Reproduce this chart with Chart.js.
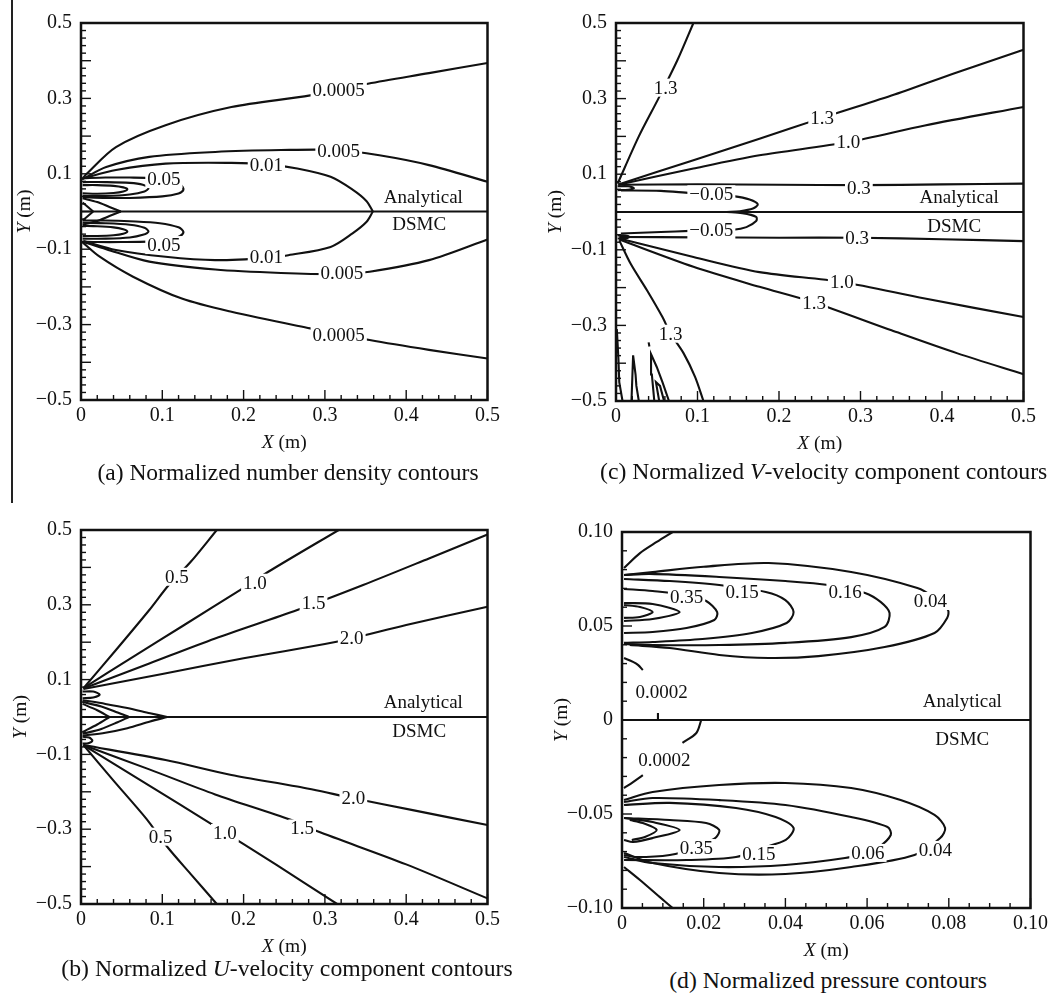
<!DOCTYPE html>
<html>
<head>
<meta charset="utf-8">
<script src="https://cdn.jsdelivr.net/npm/chart.js@4.4.1/dist/chart.umd.min.js"></script>
<style>
  body { margin: 0; background: #fff; width: 1058px; height: 996px; position: relative; overflow: hidden; font-family: "Liberation Serif", serif; }
  canvas { position: absolute; }
  .cap { position: absolute; color: #111; white-space: nowrap; transform: translate(-50%, -50%); }
  .capl { position: absolute; color: #111; white-space: nowrap; transform: translate(0, -50%); }
  #rule { position: absolute; left: 11px; top: 0; width: 1.5px; height: 503px; background: #222; }
</style>
</head>
<body>
<div id="rule"></div>
<canvas id="cA" width="504" height="455" style="left:0;top:0"></canvas>
<canvas id="cC" width="512" height="456" style="left:528px;top:0"></canvas>
<canvas id="cB" width="504" height="479" style="left:0;top:480px"></canvas>
<canvas id="cD" width="524" height="483" style="left:528px;top:480px"></canvas>
<div class="cap" style="left:288px;top:472px;font-size:23.5px">(a) Normalized number density contours</div>
<div class="capl" style="left:600px;top:471px;font-size:23.7px">(c) Normalized <i>V</i>-velocity component contours</div>
<div class="cap" style="left:287px;top:968px;font-size:23.7px">(b) Normalized <i>U</i>-velocity component contours</div>
<div class="cap" style="left:828px;top:980px;font-size:23.7px">(d) Normalized pressure contours</div>
<script>
// contour lines, [X, Y] in metres

// (a) number density
const aN0005Up = [[0.001,0.085],[0.007,0.1],[0.043,0.171],[0.104,0.229],[0.185,0.277],[0.282,0.308],[0.353,0.339],[0.428,0.367],[0.5,0.394]];
const aN0005Lo = [[0.001,-0.08],[0.023,-0.12],[0.064,-0.173],[0.124,-0.231],[0.185,-0.266],[0.282,-0.31],[0.355,-0.341],[0.428,-0.367],[0.5,-0.39]];
const aN005Up = [[0.002,0.086],[0.031,0.118],[0.084,0.145],[0.165,0.158],[0.246,0.163],[0.315,0.163],[0.367,0.149],[0.428,0.123],[0.5,0.079]];
const aN005Lo = [[0.002,-0.08],[0.031,-0.1],[0.084,-0.133],[0.165,-0.154],[0.246,-0.163],[0.321,-0.166],[0.355,-0.16],[0.428,-0.129],[0.5,-0.074]];
const aN01Up = [[0.003,0.088],[0.043,0.11],[0.104,0.127],[0.185,0.129],[0.23,0.125],[0.266,0.114],[0.307,0.092],[0.334,0.058],[0.351,0.028],[0.359,0]];
const aN01Lo = [[0.359,0],[0.351,-0.028],[0.334,-0.058],[0.307,-0.094],[0.255,-0.116],[0.23,-0.123],[0.165,-0.129],[0.104,-0.12],[0.043,-0.102],[0.003,-0.078]];
const aLobeAUp = [[0.002,0.07],[0.02,0.07],[0.04,0.068],[0.052,0.064],[0.057,0.059],[0.052,0.053],[0.04,0.049],[0.02,0.047],[0.002,0.048]];
const aLobeBUp = [[0.002,0.078],[0.03,0.078],[0.06,0.076],[0.076,0.071],[0.083,0.062],[0.078,0.053],[0.06,0.045],[0.03,0.041],[0.002,0.041]];
const aLobeCUp = [[0.002,0.088],[0.03,0.09],[0.06,0.09],[0.083,0.089],[0.11,0.082],[0.123,0.07],[0.126,0.058],[0.12,0.048],[0.1,0.04],[0.06,0.036],[0.03,0.036],[0.002,0.038]];
const aLobeALo = [[0.002,-0.038],[0.02,-0.039],[0.04,-0.042],[0.052,-0.047],[0.057,-0.053],[0.052,-0.059],[0.04,-0.063],[0.02,-0.065],[0.002,-0.065]];
const aLobeBLo = [[0.002,-0.03],[0.03,-0.031],[0.06,-0.035],[0.078,-0.043],[0.083,-0.053],[0.076,-0.062],[0.06,-0.069],[0.03,-0.072],[0.002,-0.072]];
const aLobeCLo = [[0.002,-0.024],[0.03,-0.024],[0.06,-0.026],[0.097,-0.031],[0.12,-0.042],[0.126,-0.054],[0.122,-0.065],[0.11,-0.076],[0.083,-0.08],[0.05,-0.081],[0.02,-0.081],[0.002,-0.08]];
const aVOutUp = [[0.002,0.035],[0.02,0.025],[0.035,0.012],[0.049,0]];
const aVOutLo = [[0.049,0],[0.035,-0.012],[0.02,-0.025],[0.002,-0.035]];
const aVInUp = [[0.002,0.024],[0.015,0]];
const aVInLo = [[0.015,0],[0.002,-0.024]];
const aCenter = [[0,0],[0.5,0]];
const aLabels = [["0.0005",0.317,0.323],["0.005",0.317,0.161],["0.01",0.228,0.123],["0.05",0.102,0.086],
                 ["0.05",0.102,-0.089],["0.01",0.228,-0.12],["0.005",0.321,-0.163],["0.0005",0.317,-0.328]];

// (c) V-velocity
const cV13UpSteep = [[0.002,0.075],[0.028,0.2],[0.052,0.3],[0.075,0.4],[0.095,0.5]];
const cV13UpFlat = [[0.003,0.073],[0.095,0.137],[0.176,0.194],[0.253,0.249],[0.338,0.308],[0.419,0.37],[0.5,0.429]];
const cV10Up = [[0.003,0.072],[0.095,0.115],[0.176,0.15],[0.285,0.185],[0.379,0.229],[0.5,0.278]];
const cV03Up = [[0.003,0.072],[0.1,0.073],[0.2,0.072],[0.3,0.071],[0.4,0.073],[0.5,0.075]];
const cVm05Up = [[0.006,0.057],[0.055,0.056],[0.091,0.05],[0.117,0.047],[0.144,0.042],[0.164,0.033],[0.174,0.02],[0.168,0.009],[0.152,0.002],[0.136,0]];
const cVLoopUp = [[0.002,0.068],[0.015,0.068],[0.022,0.063],[0.015,0.059],[0.002,0.058]];
const cVm05Lo = [[0.136,0],[0.155,-0.003],[0.172,-0.013],[0.172,-0.024],[0.16,-0.04],[0.144,-0.047],[0.117,-0.048],[0.091,-0.05],[0.055,-0.053],[0.006,-0.057]];
const cVLoopLo = [[0.002,-0.062],[0.012,-0.062],[0.016,-0.066],[0.012,-0.07],[0.002,-0.07]];
const cV03Lo = [[0.004,-0.066],[0.1,-0.067],[0.2,-0.068],[0.298,-0.068],[0.4,-0.072],[0.5,-0.077]];
const cV10Lo = [[0.004,-0.07],[0.095,-0.119],[0.176,-0.159],[0.277,-0.185],[0.379,-0.229],[0.5,-0.278]];
const cV13LoFlat = [[0.004,-0.073],[0.095,-0.145],[0.176,-0.198],[0.241,-0.238],[0.338,-0.313],[0.419,-0.374],[0.5,-0.429]];
const cV13LoSteep = [[0.004,-0.075],[0.018,-0.137],[0.038,-0.207],[0.057,-0.278],[0.067,-0.322],[0.083,-0.374],[0.097,-0.436],[0.107,-0.498]];
const cVNoise1 = [[0.019,-0.5],[0.02,-0.44],[0.021,-0.379],[0.024,-0.43],[0.025,-0.46],[0.028,-0.5]];
const cVNoise2 = [[0.047,-0.5],[0.044,-0.43],[0.043,-0.376],[0.05,-0.41],[0.057,-0.45],[0.065,-0.5]];
const cVNoise3 = [[0.053,-0.5],[0.049,-0.45],[0.054,-0.46],[0.059,-0.5]];
const cVNoise4 = [[0.001,-0.31],[0.003,-0.39],[0.004,-0.45],[0.008,-0.5]];
const cVDot = [[0.04,-0.345],[0.041,-0.356]];
const cCenter = [[0,0],[0.5,0]];
const cLabels = [["1.3",0.061,0.329],["1.3",0.253,0.249],["1.0",0.285,0.185],["0.3",0.298,0.064],["\u22120.05",0.117,0.047],
                 ["\u22120.05",0.117,-0.048],["0.3",0.296,-0.068],["1.0",0.277,-0.185],["1.3",0.243,-0.242],["1.3",0.067,-0.322]];

// (b) U-velocity
const bU05Up = [[0.003,0.077],[0.043,0.179],[0.084,0.286],[0.108,0.353],[0.135,0.415],[0.167,0.5]];
const bU10Up = [[0.003,0.077],[0.064,0.161],[0.124,0.242],[0.199,0.344],[0.234,0.393],[0.317,0.5]];
const bU15Up = [[0.003,0.076],[0.084,0.143],[0.165,0.21],[0.266,0.286],[0.347,0.353],[0.428,0.424],[0.5,0.488]];
const bU20Up = [[0.003,0.075],[0.1,0.115],[0.2,0.157],[0.3,0.195],[0.333,0.21],[0.4,0.246],[0.5,0.295]];
const bU20Lo = [[0.003,-0.075],[0.104,-0.115],[0.185,-0.155],[0.266,-0.186],[0.335,-0.217],[0.408,-0.249],[0.5,-0.289]];
const bU15Lo = [[0.003,-0.075],[0.084,-0.14],[0.165,-0.207],[0.258,-0.275],[0.29,-0.305],[0.4,-0.394],[0.5,-0.485]];
const bU10Lo = [[0.003,-0.075],[0.08,-0.178],[0.161,-0.287],[0.24,-0.395],[0.315,-0.5]];
const bU05Lo = [[0.003,-0.075],[0.04,-0.17],[0.08,-0.271],[0.106,-0.347],[0.135,-0.42],[0.167,-0.5]];
const bTipOutUp = [[0.002,0.045],[0.03,0.035],[0.057,0.024],[0.085,0.01],[0.106,0]];
const bTipOutLo = [[0.106,0],[0.085,-0.012],[0.057,-0.03],[0.03,-0.042],[0.002,-0.05]];
const bTipMidUp = [[0.002,0.04],[0.025,0.028],[0.045,0.012],[0.059,0]];
const bTipMidLo = [[0.059,0],[0.045,-0.014],[0.025,-0.032],[0.002,-0.045]];
const bTipInUp = [[0.002,0.035],[0.02,0.018],[0.035,0]];
const bTipInLo = [[0.035,0],[0.02,-0.02],[0.002,-0.04]];
const bLoopUp = [[0.002,0.068],[0.015,0.068],[0.023,0.06],[0.015,0.052],[0.002,0.05]];
const bLoopLo = [[0.002,-0.053],[0.01,-0.055],[0.014,-0.063],[0.009,-0.07],[0.002,-0.071]];
const bCenter = [[0,0],[0.5,0]];
const bLabels = [["0.5",0.118,0.375],["1.0",0.214,0.359],["1.5",0.286,0.304],["2.0",0.333,0.21],
                 ["2.0",0.335,-0.217],["1.5",0.272,-0.298],["1.0",0.177,-0.31],["0.5",0.098,-0.32]];

// (d) pressure
const dP0002Top = [[0.0005,0.0809],[0.0044,0.0888],[0.0085,0.0947],[0.0124,0.1]];
const dP0002Up = [[0.0005,0.033],[0.0027,0.0309],[0.0039,0.0293],[0.0051,0.0266]];
const dTickUp = [[0.0088,0.0037],[0.0088,0]];
const dP04Up = [[0.0005,0.0771],[0.0075,0.0787],[0.02,0.0815],[0.0359,0.0835],[0.0561,0.0787],[0.0723,0.0702],[0.0765,0.065],[0.0798,0.0585],[0.0796,0.0543],[0.0765,0.0463],[0.0643,0.0388],[0.0481,0.034],[0.0359,0.033],[0.0238,0.0346],[0.0117,0.0383],[0.0019,0.0399]];
const dP16Up = [[0.0005,0.0771],[0.0068,0.0777],[0.0238,0.0761],[0.04,0.0739],[0.0505,0.0718],[0.0595,0.0676],[0.0633,0.0628],[0.0655,0.0569],[0.0643,0.0495],[0.0561,0.0441],[0.04,0.041],[0.0238,0.0399],[0.0075,0.0399],[0.0005,0.0404]];
const dP15Up = [[0.0005,0.075],[0.0117,0.0739],[0.0238,0.0718],[0.0352,0.0681],[0.04,0.0638],[0.042,0.0574],[0.0403,0.0516],[0.0318,0.0463],[0.0197,0.0431],[0.0075,0.0415],[0.0005,0.041]];
const dP35Up = [[0.0005,0.0697],[0.0075,0.0686],[0.0158,0.0665],[0.0206,0.0633],[0.0233,0.0574],[0.0226,0.0532],[0.0158,0.0489],[0.0075,0.0468],[0.0005,0.0463]];
const dLoop1Up = [[0.0005,0.0622],[0.0075,0.0617],[0.0141,0.0574],[0.0075,0.0537],[0.0005,0.0527]];
const dLoop2Up = [[0.0005,0.0612],[0.0044,0.0601],[0.0075,0.0574],[0.0044,0.0548],[0.0005,0.0543]];
const dP0002Bot = [[0.0194,0],[0.0182,-0.0069],[0.0148,-0.0122]];
const dP0002Lo = [[0.0005,-0.0362],[0.0027,-0.033],[0.0051,-0.0293]];
const dP0002Edge = [[0.0005,-0.0782],[0.0044,-0.0851],[0.0092,-0.0941],[0.0124,-0.1]];
const dP04Lo = [[0.0005,-0.0426],[0.0075,-0.0383],[0.0238,-0.0346],[0.04,-0.0335],[0.0561,-0.0362],[0.0682,-0.0426],[0.0765,-0.0505],[0.0791,-0.0574],[0.0779,-0.0628],[0.0716,-0.0718],[0.0561,-0.0782],[0.04,-0.0819],[0.0238,-0.0814],[0.0075,-0.0761],[0.0005,-0.0707]];
const dP06Lo = [[0.0005,-0.0436],[0.0075,-0.0415],[0.0238,-0.0426],[0.04,-0.0452],[0.0561,-0.0516],[0.065,-0.0569],[0.0658,-0.0612],[0.0626,-0.0681],[0.0595,-0.0707],[0.0546,-0.0734],[0.04,-0.0771],[0.0238,-0.0782],[0.0075,-0.0761],[0.0005,-0.0729]];
const dP15Lo = [[0.0005,-0.0452],[0.0117,-0.0441],[0.0279,-0.0468],[0.0376,-0.0516],[0.042,-0.0574],[0.0401,-0.0638],[0.0342,-0.0681],[0.0279,-0.0729],[0.0158,-0.0745],[0.0005,-0.0745]];
const dP35Lo = [[0.0005,-0.0521],[0.0117,-0.0532],[0.0206,-0.0548],[0.0238,-0.0585],[0.0231,-0.0622],[0.0206,-0.0654],[0.0182,-0.0681],[0.0117,-0.0718],[0.0036,-0.0729],[0.0005,-0.0718]];
const dLoop1Lo = [[0.0005,-0.0521],[0.0075,-0.0543],[0.0141,-0.0585],[0.0075,-0.0628],[0.0027,-0.0649],[0.0005,-0.0638]];
const dLoop2Lo = [[0.0019,-0.0532],[0.0051,-0.0548],[0.0085,-0.0585],[0.0056,-0.0622],[0.0024,-0.0638]];
const dCenter = [[0,0],[0.1,0]];
const dLabels = [["0.35",0.0158,0.0654],["0.15",0.0294,0.0681],["0.16",0.0546,0.0681],["0.04",0.0755,0.0633],["0.0002",0.0097,0.0149],
                 ["0.0002",0.0104,-0.0213],["0.35",0.0182,-0.0681],["0.15",0.0335,-0.0713],["0.06",0.0602,-0.0707],["0.04",0.0767,-0.0691]];

const INK = "#111";
const FONT = '"Liberation Serif", "Times New Roman", serif';

function line(pts, jagged) {
  return {
    data: pts.map(p => ({ x: p[0], y: p[1] })),
    showLine: true,
    borderColor: INK,
    borderWidth: 2.1,
    pointRadius: 0,
    tension: jagged ? 0 : 0.3,
    fill: false
  };
}

function drawMixed(ctx, parts, cx, cy) {
  // parts: [[text, italic], ...] centred on cx
  let total = 0;
  parts.forEach(p => {
    ctx.font = (p[1] ? "italic " : "") + "19.5px " + FONT;
    total += ctx.measureText(p[0]).width;
  });
  let x = cx - total / 2;
  parts.forEach(p => {
    ctx.font = (p[1] ? "italic " : "") + "19.5px " + FONT;
    ctx.fillText(p[0], x, cy);
    x += ctx.measureText(p[0]).width;
  });
}

const decor = {
  id: "decor",
  afterDatasetsDraw(chart, args, o) {
    const { ctx, chartArea: ca, scales: { x, y } } = chart;
    ctx.save();
    ctx.fillStyle = INK;
    ctx.strokeStyle = INK;

    // contour labels sit on a white patch over their line
    ctx.font = "19px " + FONT;
    ctx.textAlign = "center";
    ctx.textBaseline = "middle";
    o.labels.forEach(([t, vx, vy]) => {
      const px = x.getPixelForValue(vx), py = y.getPixelForValue(vy);
      const w = ctx.measureText(t).width + 4;
      ctx.fillStyle = "#fff";
      ctx.fillRect(px - w / 2, py - 9, w, 18);
      ctx.fillStyle = INK;
      ctx.fillText(t, px, py + 1);
    });
    o.notes.forEach(([t, vx, vy]) => {
      ctx.fillText(t, x.getPixelForValue(vx), y.getPixelForValue(vy));
    });

    // frame
    ctx.lineWidth = 2.5;
    ctx.strokeRect(ca.left, ca.top, ca.right - ca.left, ca.bottom - ca.top);

    // ticks pointing inwards, bottom and left only
    ctx.lineWidth = 1.4;
    const tk = (scale, minor, major, horiz) => {
      const n = Math.round((scale.max - scale.min) / minor);
      for (let i = 0; i <= n; i++) {
        const v = scale.min + i * minor;
        const len = Math.abs(v / major - Math.round(v / major)) < 1e-6 ? 10 : 5;
        const p = scale.getPixelForValue(v);
        ctx.beginPath();
        if (horiz) { ctx.moveTo(p, ca.bottom); ctx.lineTo(p, ca.bottom - len); }
        else { ctx.moveTo(ca.left, p); ctx.lineTo(ca.left + len, p); }
        ctx.stroke();
      }
    };
    tk(x, o.xMinor, o.xMajor, true);
    tk(y, o.yMinor, o.yMajor, false);

    // axis titles
    ctx.textAlign = "left";
    drawMixed(ctx, [["X", true], [" (m)", false]], (ca.left + ca.right) / 2, ca.bottom + 43);
    ctx.translate(ca.left - o.yTitleOff, (ca.top + ca.bottom) / 2);
    ctx.rotate(-Math.PI / 2);
    drawMixed(ctx, [["Y", true], [" (m)", false]], 0, 0);
    ctx.restore();
  }
};

function fmt(v, digits) {
  if (Math.abs(v) < 1e-9) return "0";
  return (v < 0 ? "\u2212" : "") + Math.abs(v).toFixed(digits);
}

function makeChart(id, c) {
  new Chart(document.getElementById(id), {
    type: "scatter",
    data: {
      datasets: c.lines.map(p => line(p)).concat((c.jagged || []).map(p => line(p, true)))
    },
    options: {
      responsive: false,
      animation: false,
      layout: { padding: { top: c.padTop, right: c.padRight, left: 0, bottom: 0 } },
      plugins: {
        legend: { display: false },
        tooltip: { enabled: false },
        decor: c.decor
      },
      scales: {
        x: {
          type: "linear", min: c.xMin, max: c.xMax,
          grid: { display: false, drawTicks: false },
          border: { display: false },
          ticks: {
            stepSize: c.xStep, autoSkip: false, maxRotation: 0, padding: 4,
            color: INK, font: { family: FONT, size: 20 },
            callback: v => fmt(v, c.xDigits)
          },
          afterFit: s => { s.height = 55; }
        },
        y: {
          type: "linear", min: c.yMin, max: c.yMax,
          grid: { display: false, drawTicks: false },
          border: { display: false },
          ticks: {
            stepSize: c.yStep, autoSkip: false, padding: 9,
            color: INK, font: { family: FONT, size: 20 },
            callback: c.yLabel
          },
          afterFit: s => { s.width = c.yWidth; }
        }
      }
    },
    plugins: [decor]
  });
}

const oddTenths = v => (Math.abs(Math.round(v * 10)) % 2 === 1 ? fmt(v, 1) : "");

makeChart("cA", {
  lines: [aCenter, aN0005Up, aN0005Lo, aN005Up, aN005Lo, aN01Up, aN01Lo, aLobeAUp, aLobeBUp, aLobeCUp,
          aLobeALo, aLobeBLo, aLobeCLo, aVOutUp, aVOutLo, aVInUp, aVInLo],
  xMin: 0, xMax: 0.5, xStep: 0.1, xDigits: 1, yMin: -0.5, yMax: 0.5, yStep: 0.1, yLabel: oddTenths,
  yWidth: 81, padTop: 23, padRight: 12,
  decor: { labels: aLabels, notes: [["Analytical", 0.421, 0.036], ["DSMC", 0.416, -0.036]],
           xMinor: 0.02, xMajor: 0.1, yMinor: 0.02, yMajor: 0.1, yTitleOff: 56 }
});

makeChart("cC", {
  lines: [cCenter, cV13UpSteep, cV13UpFlat, cV10Up, cV03Up, cVm05Up, cVLoopUp, cVm05Lo, cVLoopLo,
          cV03Lo, cV10Lo, cV13LoFlat, cV13LoSteep],
  jagged: [cVNoise1, cVNoise2, cVNoise3, cVNoise4, cVDot],
  xMin: 0, xMax: 0.5, xStep: 0.1, xDigits: 1, yMin: -0.5, yMax: 0.5, yStep: 0.1, yLabel: oddTenths,
  yWidth: 88, padTop: 23, padRight: 12,
  decor: { labels: cLabels, notes: [["Analytical", 0.421, 0.036], ["DSMC", 0.415, -0.04]],
           xMinor: 0.02, xMajor: 0.1, yMinor: 0.02, yMajor: 0.1, yTitleOff: 60 }
});

makeChart("cB", {
  lines: [bCenter, bU05Up, bU10Up, bU15Up, bU20Up, bU20Lo, bU15Lo, bU10Lo, bU05Lo,
          bTipOutUp, bTipOutLo, bTipMidUp, bTipMidLo, bTipInUp, bTipInLo, bLoopUp, bLoopLo],
  xMin: 0, xMax: 0.5, xStep: 0.1, xDigits: 1, yMin: -0.5, yMax: 0.5, yStep: 0.1, yLabel: oddTenths,
  yWidth: 81, padTop: 50, padRight: 12,
  decor: { labels: bLabels, notes: [["Analytical", 0.421, 0.037], ["DSMC", 0.416, -0.04]],
           xMinor: 0.02, xMajor: 0.1, yMinor: 0.02, yMajor: 0.1, yTitleOff: 60 }
});

makeChart("cD", {
  lines: [dCenter, dP0002Top, dP0002Up, dP04Up, dP16Up, dP15Up, dP35Up, dLoop1Up, dLoop2Up,
          dP0002Bot, dP0002Lo, dP0002Edge, dP04Lo, dP06Lo, dP15Lo, dP35Lo, dLoop1Lo, dLoop2Lo],
  jagged: [dTickUp],
  xMin: 0, xMax: 0.1, xStep: 0.02, xDigits: 2, yMin: -0.1, yMax: 0.1, yStep: 0.05,
  yLabel: v => fmt(v, 2),
  yWidth: 94, padTop: 52, padRight: 18,
  decor: { labels: dLabels, notes: [["Analytical", 0.0833, 0.0096], ["DSMC", 0.0833, -0.0106]],
           xMinor: 0.005, xMajor: 0.02, yMinor: 0.01, yMajor: 0.05, yTitleOff: 60 }
});
</script>
</body>
</html>
